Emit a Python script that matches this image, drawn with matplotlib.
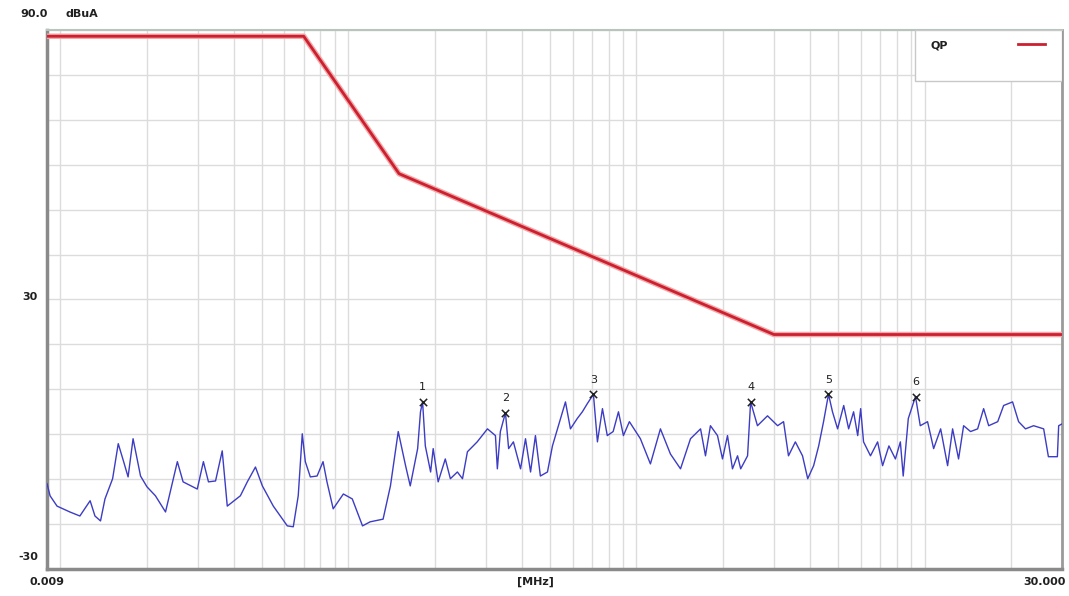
import numpy as np
import matplotlib
matplotlib.use("Agg")
import matplotlib.pyplot as plt
from matplotlib.ticker import LogLocator, MultipleLocator, NullFormatter

# QP limit line (MHz, dBuA)
limit_freq = [0.009, 0.07, 0.15, 3.0, 30.0]
limit_level = [88.6, 88.6, 58.0, 22.2, 22.2]

# measured trace (MHz, dBuA)
trace_freq = [
    0.0090, 0.00922, 0.00975, 0.0108, 0.0117, 0.0127, 0.0132, 0.0138, 0.0143, 0.0152,
    0.0159, 0.0166, 0.0172, 0.0179, 0.0190, 0.0200, 0.0214, 0.0232, 0.0255, 0.0267,
    0.0299, 0.0314, 0.0327, 0.0346, 0.0365, 0.0380, 0.0422, 0.0446, 0.0476, 0.0503,
    0.0549, 0.0614, 0.0644, 0.0670, 0.0692, 0.0709, 0.0738, 0.0779, 0.0817, 0.0843,
    0.0886, 0.0961, 0.1032, 0.112, 0.119, 0.132, 0.140, 0.149, 0.158, 0.164,
    0.174, 0.178, 0.181, 0.185, 0.193, 0.197, 0.205, 0.217, 0.226, 0.239,
    0.249, 0.259, 0.280, 0.304, 0.324, 0.329, 0.337, 0.351, 0.360, 0.374,
    0.396, 0.412, 0.429, 0.446, 0.464, 0.491, 0.511, 0.536, 0.567, 0.590,
    0.623, 0.649, 0.675, 0.709, 0.732, 0.762, 0.792, 0.830, 0.866, 0.901,
    0.945, 1.032, 1.118, 1.211, 1.312, 1.422, 1.540, 1.669, 1.736, 1.806,
    1.911, 1.989, 2.07, 2.154, 2.243, 2.30, 2.43, 2.49, 2.63, 2.85,
    3.09, 3.24, 3.37, 3.56, 3.77, 3.93, 4.12, 4.29, 4.46, 4.64,
    4.79, 4.99, 5.24, 5.45, 5.67, 5.86, 6.00, 6.14, 6.49, 6.87,
    7.15, 7.52, 7.92, 8.24, 8.43, 8.78, 9.30, 9.66, 10.24, 10.75,
    11.37, 12.02, 12.51, 13.12, 13.66, 14.44, 15.28, 16.03, 16.69, 17.94,
    18.81, 20.2, 21.2, 22.4, 23.9, 25.9, 26.9, 28.9, 29.2, 30.0,
]
trace_level = [
    -11.0, -13.7, -16.0, -17.3, -18.2, -14.8, -18.2, -19.3, -14.4, -9.9,
    -2.1, -6.1, -9.5, -1.0, -9.3, -11.7, -13.7, -17.3, -6.1, -10.6,
    -12.2, -6.1, -10.6, -10.4, -3.7, -16.0, -13.7, -10.6, -7.3, -11.5,
    -16.0, -20.4, -20.6, -13.7, 0.1, -6.1, -9.5, -9.3, -6.1, -10.6,
    -16.6, -13.3, -14.4, -20.4, -19.5, -18.9, -11.5, 0.6, -7.0, -11.5,
    -3.2, 5.0, 7.2, -2.6, -8.4, -3.2, -10.6, -5.5, -9.9, -8.4,
    -9.9, -3.9, -1.7, 1.2, -0.3, -7.7, 0.6, 4.8, -3.2, -1.7,
    -7.7, -1.0, -8.4, -0.3, -9.3, -8.4, -2.6, 1.9, 7.2, 1.2,
    3.5, 5.0, 6.8, 8.9, -1.7, 5.7, -0.3, 0.6, 5.0, -0.3,
    2.8, -1.0, -6.6, 1.2, -4.4, -7.7, -1.0, 1.2, -4.8, 1.9,
    -0.3, -5.5, -0.3, -7.7, -4.8, -7.7, -4.8, 7.2, 1.9, 4.1,
    1.9, 2.8, -4.8, -1.7, -4.8, -9.9, -7.0, -2.6, 2.8, 8.9,
    5.0, 1.2, 6.4, 1.2, 5.0, -0.3, 5.7, -1.7, -4.8, -1.7,
    -7.0, -2.6, -5.5, -1.7, -9.3, 3.5, 8.4, 1.9, 2.8, -3.2,
    1.2, -7.0, 1.2, -5.5, 1.9, 0.6, 1.2, 5.7, 1.9, 2.8,
    6.4, 7.2, 2.8, 1.2, 1.9, 1.2, -5.0, -5.0, 1.9, 2.3,
]

# marked peaks
peak_ids = ["1", "2", "3", "4", "5", "6"]
peak_freq = [0.181, 0.351, 0.709, 2.49, 4.64, 9.30]
peak_level = [7.2, 4.8, 8.9, 7.2, 8.9, 8.4]

fig = plt.figure(figsize=(10.69, 5.96), dpi=100)
ax = fig.add_axes([0.044, 0.0453, 0.9495, 0.9044])

ax.set_xscale("log")
ax.set_xlim(0.009, 30)
ax.set_ylim(-30, 90)

ax.xaxis.set_major_locator(LogLocator(base=10, subs=np.arange(1, 10)))
ax.xaxis.set_minor_locator(LogLocator(base=10, subs=np.arange(1, 10)))
ax.yaxis.set_major_locator(MultipleLocator(10))
ax.xaxis.set_major_formatter(NullFormatter())
ax.xaxis.set_minor_formatter(NullFormatter())
ax.yaxis.set_major_formatter(NullFormatter())
ax.tick_params(which="both", length=0)
ax.grid(True, which="both", color="#dcdcdc", linewidth=1.0)
ax.set_axisbelow(True)

for side in ["left", "bottom"]:
    ax.spines[side].set_color("#8a8a8a")
    ax.spines[side].set_linewidth(2.5)
ax.spines["right"].set_color("#9a9a9a")
ax.spines["right"].set_linewidth(2.0)
ax.spines["top"].set_color("#b8c4bc")
ax.spines["top"].set_linewidth(1.5)

ax.plot(trace_freq, trace_level, color="#3c3cc4", linewidth=1.0, zorder=3)
ax.plot(limit_freq, limit_level, color="#f2a8a8", linewidth=4.0, zorder=4, solid_capstyle="butt")
ax.plot(limit_freq, limit_level, color="#cc2030", linewidth=2.0, zorder=5, solid_capstyle="butt")

ax.scatter(peak_freq, peak_level, marker="x", color="#202020", s=28, linewidths=1.1, zorder=6)
for pid, pf, pl in zip(peak_ids, peak_freq, peak_level):
    ax.annotate(pid, (pf, pl), xytext=(0, 7), textcoords="offset points",
                ha="center", va="bottom", fontsize=8, color="#202020", zorder=6)

# legend box in the upper right corner
ax.add_patch(plt.Rectangle((0.855, 0.905), 0.145, 0.095, transform=ax.transAxes,
                           facecolor="white", edgecolor="#c8c8c8", linewidth=1.0, zorder=7))
ax.text(0.870, 0.972, "QP", transform=ax.transAxes, fontsize=8, fontweight="bold",
        ha="left", va="center", color="#202020", zorder=8)
ax.plot([0.957, 0.983], [0.974, 0.974], transform=ax.transAxes, color="#cc2030",
        linewidth=2.0, zorder=8)

lab = dict(fontsize=8, fontweight="bold", color="#202020", va="center")
fig.text(20 / 1069, 1 - 14 / 596, "90.0", ha="left", **lab)
fig.text(66 / 1069, 1 - 14 / 596, "dBuA", ha="left", **lab)
fig.text(38 / 1069, 1 - 297 / 596, "30", ha="right", **lab)
fig.text(38 / 1069, 1 - 557 / 596, "-30", ha="right", **lab)
fig.text(30 / 1069, 1 - 582 / 596, "0.009", ha="left", **lab)
fig.text(535 / 1069, 1 - 582 / 596, "[MHz]", ha="center", **lab)
fig.text(1066 / 1069, 1 - 582 / 596, "30.000", ha="right", **lab)

fig.savefig("out.png", dpi=100)
